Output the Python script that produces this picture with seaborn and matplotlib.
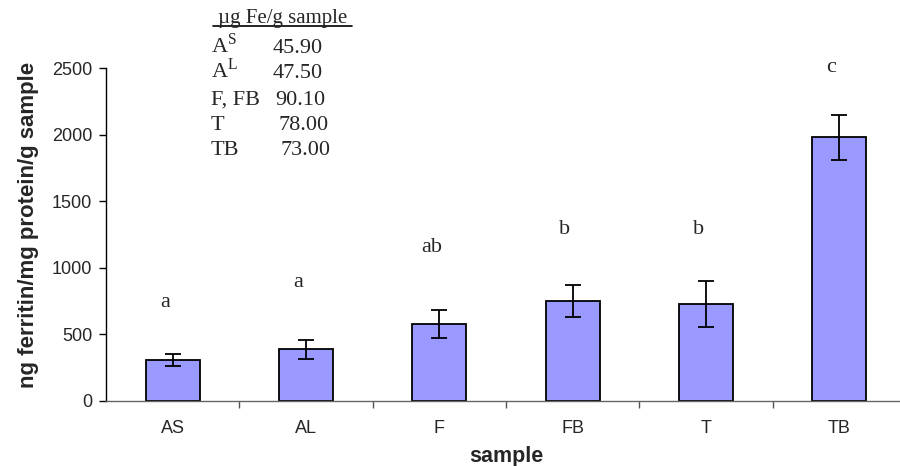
import numpy as np
import pandas as pd
import seaborn as sns
import matplotlib.pyplot as plt
from matplotlib.ticker import FixedLocator

samples = ["AS", "AL", "F", "FB", "T", "TB"]
ferritin = [308, 388, 578, 751, 728, 1980]
err = [45, 70, 108, 118, 175, 170]
letters = ["a", "a", "ab", "b", "b", "c"]
letter_y = [743, 886, 1156, 1291, 1291, 2505]

fe_labels = ["A$^{\\mathregular{S}}$", "A$^{\\mathregular{L}}$", "F, FB", "T", "TB"]
fe_values = ["45.90", "47.50", "90.10", "78.00", "73.00"]

sns.set_style("white")
plt.rcParams['font.family'] = ['Liberation Sans', 'DejaVu Sans']

data = pd.DataFrame({"sample": samples, "ferritin": ferritin})

fig = plt.figure(figsize=(9, 4.66), dpi=100)
ax = fig.add_axes([0.1178, 0.1395, 0.889, 0.7145])

sns.barplot(data=data, x="sample", y="ferritin", order=samples, color="#9999ff",
            saturation=1, width=0.405, edgecolor="black", linewidth=1.3,
            errorbar=None, ax=ax)
ax.errorbar(np.arange(len(samples)), ferritin, yerr=err, fmt="none",
            ecolor="black", elinewidth=1.3, capsize=6, capthick=1.3)

for i, (lab, ly) in enumerate(zip(letters, letter_y)):
    ax.text(i - 0.06, ly, lab, ha="center", va="center", fontsize=16,
            family="Liberation Serif", clip_on=False)

ax.set_xlim(-0.5, len(samples) - 0.5)
ax.set_ylim(0, 2500)
ax.set_yticks(range(0, 2501, 500))
ax.tick_params(axis="y", direction="out", length=5, width=1, color="black",
               labelsize=13, left=True, pad=5)
ax.tick_params(axis="x", which="major", length=0, labelsize=13, pad=14)
ax.xaxis.set_minor_locator(FixedLocator(np.arange(0.5, len(samples) - 0.5, 1)))
ax.tick_params(axis="x", which="minor", direction="out", length=5, width=1,
               color="#555555", bottom=True)

sns.despine(ax=ax)
ax.spines["left"].set_color("black")
ax.spines["bottom"].set_color("#666666")
ax.spines["left"].set_linewidth(1)
ax.spines["bottom"].set_linewidth(1)

ax.set_xlabel("sample", fontsize=15.5, fontweight="bold", labelpad=6)
ax.set_ylabel("ng ferritin/mg protein/g sample", fontsize=16, fontweight="bold",
              labelpad=9, y=0.53)

# iron content inset table
fig.text(218 / 900, 1 - 23 / 466, "µg Fe/g sample", ha="left", va="baseline",
         fontsize=15, family="Liberation Serif")
fig.add_artist(plt.Line2D([213 / 900, 352 / 900], [1 - 25.5 / 466, 1 - 25.5 / 466],
                          color="black", linewidth=1.2))
row_y = [53, 78, 105, 130, 155]
val_x = [273, 273, 275, 278, 281]
for lab, val, ry, vx in zip(fe_labels, fe_values, row_y, val_x):
    fig.text(211 / 900, 1 - ry / 466, lab, ha="left", va="baseline", fontsize=16,
             family="Liberation Serif")
    fig.text(vx / 900, 1 - ry / 466, val, ha="left", va="baseline", fontsize=16,
             family="Liberation Serif")

fig.savefig("out.png", dpi=100)
